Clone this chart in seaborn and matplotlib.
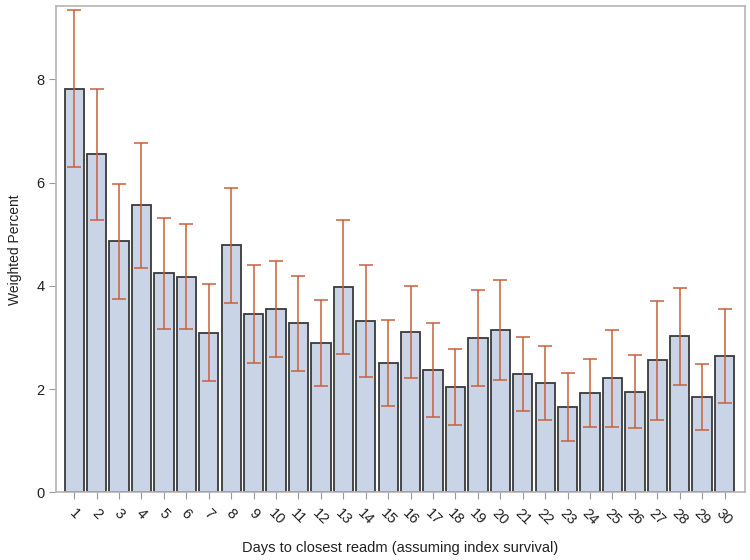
import numpy as np
import pandas as pd
import seaborn as sns
import matplotlib.pyplot as plt

days = [str(d) for d in range(1, 31)]
pct = [7.81, 6.55, 4.86, 5.56, 4.24, 4.17, 3.08, 4.79, 3.45, 3.55,
       3.28, 2.89, 3.97, 3.31, 2.50, 3.10, 2.36, 2.03, 2.98, 3.14,
       2.29, 2.11, 1.65, 1.92, 2.21, 1.94, 2.56, 3.02, 1.84, 2.64]
upper = [9.34, 7.81, 5.97, 6.76, 5.31, 5.19, 4.03, 5.89, 4.40, 4.48,
         4.19, 3.72, 5.27, 4.40, 3.33, 3.99, 3.28, 2.77, 3.91, 4.11,
         3.00, 2.83, 2.31, 2.58, 3.14, 2.66, 3.70, 3.95, 2.48, 3.55]
lower = [6.30, 5.27, 3.74, 4.34, 3.16, 3.16, 2.15, 3.66, 2.50, 2.62,
         2.34, 2.05, 2.67, 2.23, 1.67, 2.21, 1.45, 1.30, 2.05, 2.17,
         1.57, 1.40, 0.99, 1.26, 1.26, 1.24, 1.40, 2.07, 1.20, 1.72]

data = pd.DataFrame({"day": days, "pct": pct, "upper": upper, "lower": lower})

sns.set_style("white")
plt.rcParams['font.family'] = ['Liberation Sans', 'DejaVu Sans']

fig = plt.figure(figsize=(7.5, 5.6), dpi=100)
ax = fig.add_axes([0.075, 0.121, 0.918, 0.868])

sns.barplot(x="day", y="pct", data=data, color="#c9d4e6", saturation=1,
            edgecolor="#3a3a3a", linewidth=1.3, width=0.86, errorbar=None, ax=ax)

# confidence limits
pos = np.arange(len(data))
ax.errorbar(pos, data["pct"],
            yerr=[data["pct"] - data["lower"], data["upper"] - data["pct"]],
            fmt="none", ecolor="#c8603a", elinewidth=1.1, capsize=5, capthick=1.1)

ax.set_xlim(-0.8, 29.9)
ax.set_ylim(0, 9.42)
ax.set_yticks([0, 2, 4, 6, 8])
ax.set_xlabel("Days to closest readm (assuming index survival)", fontsize=10.5,
              color="#222222", labelpad=10)
ax.set_ylabel("Weighted Percent", fontsize=10, color="#222222", labelpad=10)
ax.tick_params(axis="y", labelsize=10.5, colors="#222222", length=5, color="#999999", direction="out", left=True)
ax.tick_params(axis="x", labelsize=10.5, colors="#222222", length=5, color="#999999",
               direction="out", bottom=True, pad=5)
plt.setp(ax.get_xticklabels(), rotation=-45, ha="center", rotation_mode="default")
for s in ax.spines.values():
    s.set_color("#b5b5b5")
    s.set_linewidth(1.2)

fig.savefig("out.png", dpi=100)
